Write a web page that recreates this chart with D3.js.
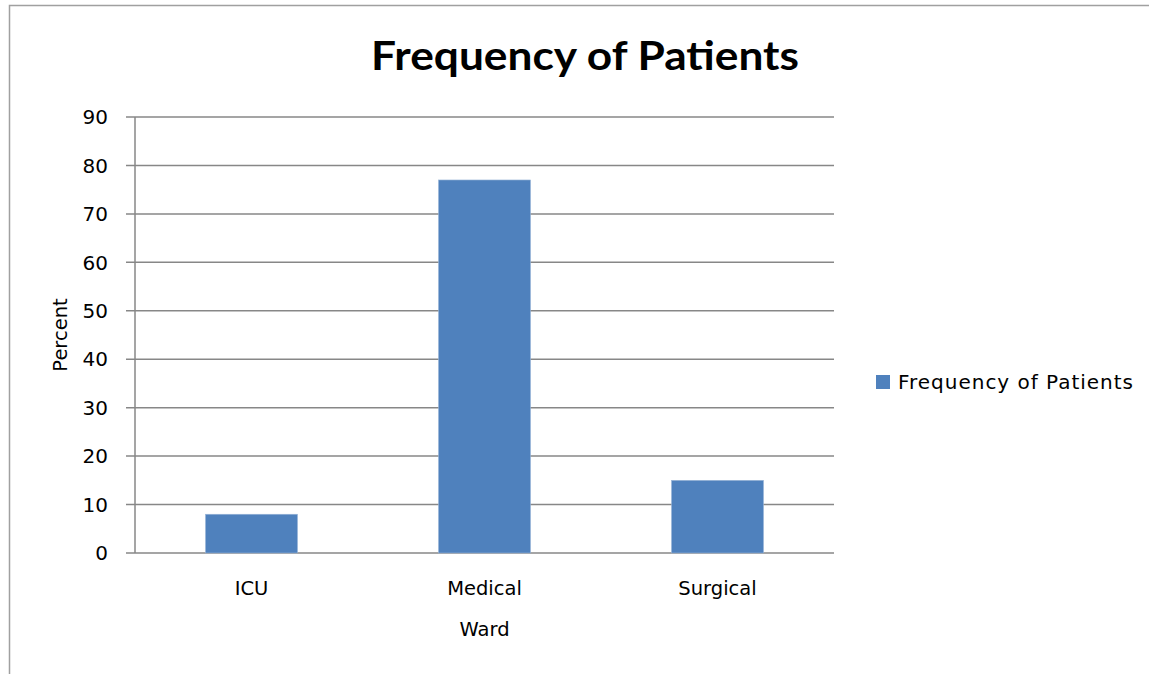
<!DOCTYPE html>
<html><head><meta charset="utf-8">
<script src="https://cdn.jsdelivr.net/npm/d3@7"></script>
<style>body{margin:0;background:#fff}</style>
</head><body>
<script>
const categories = ["ICU", "Medical", "Surgical"];
const values = [8, 77, 15];
const yTicks = [0, 10, 20, 30, 40, 50, 60, 70, 80, 90];
const seriesName = "Frequency of Patients";
const titleText = "Frequency of Patients";
const xTitle = "Ward";
const yTitle = "Percent";

(function () {
const W = 1149, H = 674;
const svg = d3.select("body").append("svg").attr("width", W).attr("height", H);
svg.append("rect").attr("x", 9.5).attr("y", 5.5).attr("width", W + 10).attr("height", H + 10)
  .attr("fill", "#fff").attr("stroke", "#a0a0a0").attr("stroke-width", 1.5);

const pL = 135, pR = 834, pT = 117, pB = 553;
const x = d3.scaleBand().domain(categories).range([pL, pR]).paddingInner(0.605).paddingOuter(0.3025);
const y = d3.scaleLinear().domain([0, 90]).range([pB, pT]);

const font = "'DejaVu Sans', sans-serif";
svg.append("g").selectAll("line").data(yTicks).join("line")
  .attr("x1", pL - 9).attr("x2", pR).attr("y1", d => y(d)).attr("y2", d => y(d))
  .attr("stroke", "#878787").attr("stroke-width", 1.5);
svg.append("line").attr("x1", pL).attr("x2", pL).attr("y1", pT).attr("y2", pB)
  .attr("stroke", "#878787").attr("stroke-width", 1.5);

svg.append("g").selectAll("rect").data(values).join("rect")
  .attr("x", (d, i) => x(categories[i])).attr("width", x.bandwidth())
  .attr("y", d => y(d)).attr("height", d => pB - y(d))
  .attr("fill", "#4F81BD").attr("stroke", "#9bb6d8").attr("stroke-width", 0.6);

svg.append("g").selectAll("text").data(yTicks).join("text")
  .attr("x", 108).attr("y", d => y(d)).attr("dy", "0.36em").attr("text-anchor", "end")
  .attr("font-family", font).attr("font-size", 20).attr("fill", "#000").text(d => d);

svg.append("g").selectAll("text").data(categories).join("text")
  .attr("x", d => x(d) + x.bandwidth() / 2).attr("y", 595).attr("text-anchor", "middle")
  .attr("font-family", font).attr("font-size", 19.5).attr("fill", "#000").text(d => d);

svg.append("text").attr("x", (pL + pR) / 2).attr("y", 636).attr("text-anchor", "middle")
  .attr("font-family", font).attr("font-size", 19.5).text(xTitle);
svg.append("text").attr("transform", "translate(67,335) rotate(-90)").attr("text-anchor", "middle")
  .attr("font-family", font).attr("font-size", 19.5).text(yTitle);

svg.append("text").attr("x", 585).attr("y", 70).attr("text-anchor", "middle")
  .attr("font-family", "Lato, sans-serif").attr("font-weight", "bold").attr("font-size", 40)
  .attr("textLength", 428).attr("lengthAdjust", "spacingAndGlyphs").text(titleText);

svg.append("rect").attr("x", 876).attr("y", 375).attr("width", 14).attr("height", 14).attr("fill", "#4F81BD");
svg.append("text").attr("x", 898).attr("y", 389).attr("font-family", font).attr("font-size", 20)
  .attr("textLength", 235).text(seriesName);
})();
</script>
</body></html>
